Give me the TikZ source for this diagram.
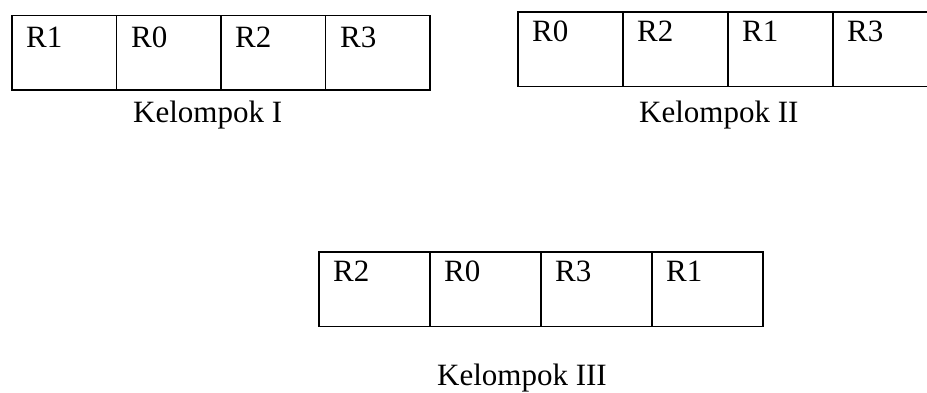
\documentclass[tikz,border=0pt]{standalone}
\usepackage{fontspec}
\setmainfont{Liberation Serif}
\begin{document}
\begin{tikzpicture}[x=1pt,y=-1pt,
  cell/.style={draw, line width=1.3pt, inner sep=0pt, outer sep=0pt,
               anchor=north west, minimum height=74.5pt},
  cellA/.style={cell, minimum width=104.5pt},
  cellB/.style={cell, minimum width=105pt},
  cellC/.style={cell, minimum width=111pt},
  reg/.style={inner sep=0pt, anchor=base west, font=\fontsize{31}{36}\selectfont},
  groupname/.style={inner sep=0pt, anchor=base west, font=\fontsize{31}{36}\selectfont}]
\useasboundingbox (0,0) rectangle (927,392);
\clip (0,0) rectangle (927,392);
\fill[white] (0,0) rectangle (927,392);

% Kelompok I
\node[cellA] (a1) at (12,15.5) {};
\node[cellA] (a2) at (a1.north east) {};
\node[cellA] (a3) at (a2.north east) {};
\node[cellA] (a4) at (a3.north east) {};
\node[reg] (ta1) at (26,47) {R1};
\node[reg] (ta2) at (131,47) {R0};
\node[reg] (ta3) at (235,47) {R2};
\node[reg] (ta4) at (340,47) {R3};
\node[groupname] (ka) at (133,122) {Kelompok I};

% Kelompok II (runs past the right edge)
\node[cellB] (b1) at (518,12) {};
\node[cellB] (b2) at (b1.north east) {};
\node[cellB] (b3) at (b2.north east) {};
\node[cellB] (b4) at (b3.north east) {};
\node[reg] (tb1) at (532,41) {R0};
\node[reg] (tb2) at (637,41) {R2};
\node[reg] (tb3) at (742,41) {R1};
\node[reg] (tb4) at (847,41) {R3};
\node[groupname] (kb) at (639,122) {Kelompok II};

% Kelompok III
\node[cellC] (c1) at (319,252) {};
\node[cellC] (c2) at (c1.north east) {};
\node[cellC] (c3) at (c2.north east) {};
\node[cellC] (c4) at (c3.north east) {};
\node[reg] (tc1) at (333,281) {R2};
\node[reg] (tc2) at (444,281) {R0};
\node[reg] (tc3) at (555,281) {R3};
\node[reg] (tc4) at (666,281) {R1};
\node[groupname] (kc) at (437,385) {Kelompok III};
\end{tikzpicture}
\end{document}
